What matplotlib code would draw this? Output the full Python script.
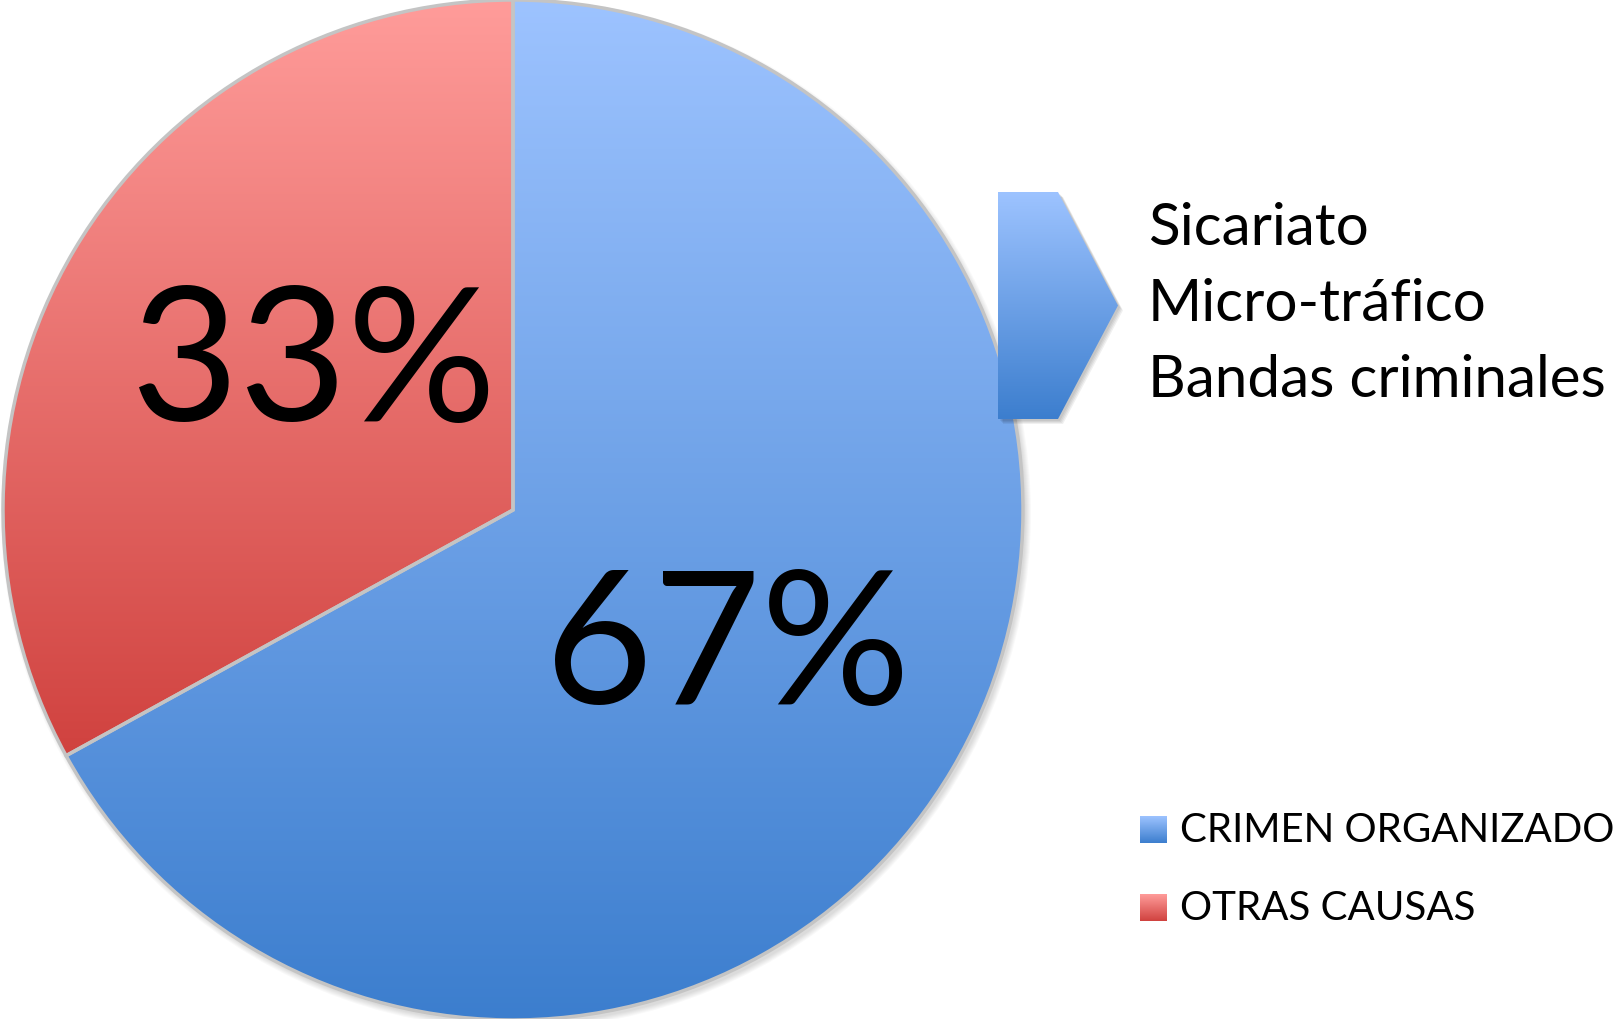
import numpy as np
import matplotlib.pyplot as plt
from matplotlib.colors import to_rgb
from matplotlib.patches import Polygon, Rectangle, Circle

# data
categories = ['CRIMEN ORGANIZADO', 'OTRAS CAUSAS']
values = [67, 33]
top_colors = ['#9DC3FF', '#FF9C9A']
bottom_colors = ['#3C7ECE', '#D0423F']
sub_items = ['Sicariato', 'Micro-tráfico', 'Bandas criminales']

W, H = 1618, 1020
FONT = 'Lato'


def gradient(ax, top, bottom, extent, clip=None, zorder=0.5):
    """Vertical gradient image, optionally clipped to a patch."""
    c0, c1 = np.array(to_rgb(top)), np.array(to_rgb(bottom))
    t = np.linspace(0, 1, 256)[:, None, None]
    img = c0 + (c1 - c0) * t
    im = ax.imshow(img, extent=extent, origin='upper', aspect='auto',
                   zorder=zorder, interpolation='bilinear')
    if clip is not None:
        im.set_clip_path(clip)
    return im


fig = plt.figure(figsize=(W / 100, H / 100), dpi=100)
ax = fig.add_axes([0, 0, 1, 1])

cx, cy, r = 513, H - 511, 510

# soft shadow under the pie
for k in range(6):
    ax.add_patch(Circle((cx + 3, cy - 4), r + k, facecolor='#000000', alpha=0.025,
                        edgecolor='none', zorder=0.1))

wedges, texts, autotexts = ax.pie(
    values, startangle=90, counterclock=False, center=(cx, cy), radius=r,
    colors=['none', 'none'], autopct=lambda p: f'{p:.0f}%', pctdistance=0.49,
    wedgeprops=dict(edgecolor='#C4C4C4', linewidth=2.5),
    textprops=dict(fontsize=134, family=FONT, color='black'))

for w, c0, c1 in zip(wedges, top_colors, bottom_colors):
    bb = w.get_path().get_extents()
    gradient(ax, c0, c1, (bb.x0, bb.x1, bb.y0, bb.y1), clip=w)

# nudge the percentage labels to where the original puts them
label_offsets = [(0, -13), (16, 16)]
for t, (dx, dy) in zip(autotexts, label_offsets):
    x, y = t.get_position()
    t.set_position((x + dx, y + dy))

# arrow shape pointing to the breakdown list
ax_left, ax_right, ax_tip = 998, 1058, 1118
ax_top, ax_bot = H - 193, H - 420
arrow_pts = [(ax_left, ax_top), (ax_right, ax_top), (ax_tip, (ax_top + ax_bot) / 2),
             (ax_right, ax_bot), (ax_left, ax_bot)]
for k in range(4):
    ax.add_patch(Polygon([(x + 2 + k, y - 2 - k) for x, y in arrow_pts], facecolor='#000000',
                         alpha=0.06, edgecolor='none', zorder=2))
arrow = Polygon(arrow_pts, facecolor='none', edgecolor='none', zorder=3)
ax.add_patch(arrow)
gradient(ax, top_colors[0], bottom_colors[0], (ax_left, ax_tip, ax_bot, ax_top), clip=arrow,
         zorder=2.5)

for i, item in enumerate(sub_items):
    ax.text(1148, H - 245 - 76 * i, item, fontsize=42, family=FONT, va='baseline', ha='left')

# legend
sq = 27
for i, (lab, c0, c1) in enumerate(zip(categories, top_colors, bottom_colors)):
    y_top = H - 817 - 78 * i
    sq_patch = Rectangle((1140, y_top - sq), sq, sq, facecolor='none', edgecolor='none')
    ax.add_patch(sq_patch)
    gradient(ax, c0, c1, (1140, 1140 + sq, y_top - sq, y_top), clip=sq_patch, zorder=0.8)
    ax.text(1180, y_top - sq / 2, lab, fontsize=29, family=FONT, va='center', ha='left')

ax.set_xlim(0, W)
ax.set_ylim(0, H)
ax.set_aspect('auto')
ax.axis('off')

fig.savefig('out.png', dpi=100, facecolor='white')
